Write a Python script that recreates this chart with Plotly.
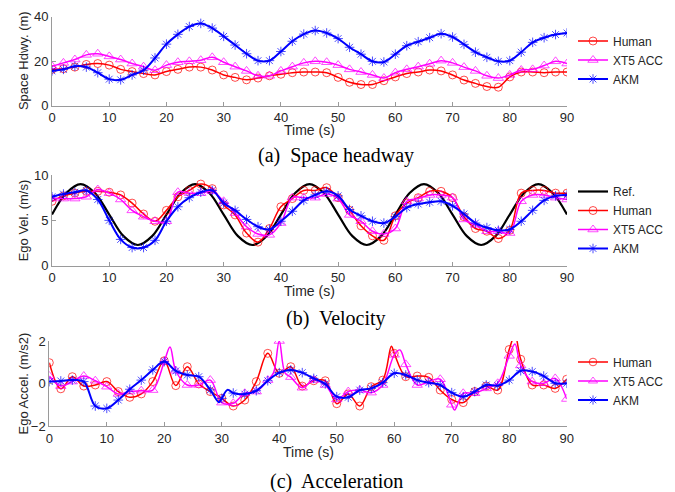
import plotly.graph_objects as go

W, H = 675, 492
OFF = 8  # page body margin in the browser

# ---------------- data ----------------
# (a) Space headway, samples every 2 s
t_hdwy = list(range(0, 91, 2))
hdwy_human = [16.3, 16.6, 17.3, 18.5, 18.9, 18.2, 16.3, 15.3, 14.4, 13.8, 15.3, 16.3, 17.3, 17.3, 16.0,
              13.8, 12.7, 11.6, 12.4, 13.4, 14.1, 14.8, 15.1, 15.1, 14.8, 12.7, 10.5, 9.5, 9.5, 11.2,
              12.9, 14.4, 15.1, 16.0, 15.6, 13.8, 11.5, 10.0, 8.6, 8.3, 12.9, 15.1, 15.1, 14.8, 15.1, 15.1]
hdwy_xt5 = [17.7, 19.2, 20.7, 22.8, 23.3, 22.1, 20.7, 18.9, 17.5, 15.9, 18.2, 19.5, 19.9, 20.4, 21.7,
            19.5, 17.5, 15.6, 13.4, 13.4, 15.6, 17.5, 19.2, 19.9, 19.5, 18.2, 16.3, 15.1, 13.8, 12.4,
            14.8, 16.3, 17.5, 18.8, 20.2, 19.2, 17.3, 15.6, 13.4, 12.4, 13.8, 16.0, 16.3, 18.0, 19.9, 18.9]
hdwy_akm = [15.6, 16.3, 17.7, 17.3, 14.8, 11.9, 11.6, 13.8, 15.9, 21.4, 27.6, 32.0, 35.5, 36.9, 34.8,
            31.1, 27.2, 23.3, 20.2, 20.2, 24.3, 28.9, 32.1, 33.7, 32.6, 30.1, 26.2, 23.1, 19.9, 19.6,
            23.1, 26.9, 28.7, 30.5, 32.3, 30.8, 27.5, 24.0, 21.7, 19.9, 20.2, 24.0, 28.4, 30.5, 31.9, 32.6]

# (b) Velocity
t_ref = [i * 2.5 for i in range(37)]
vel_ref = [5.64, 8.02, 9.0, 8.02, 5.64, 3.26, 2.28, 3.26,
           5.64, 8.02, 9.0, 8.02, 5.64, 3.26, 2.28, 3.26,
           5.64, 8.02, 9.0, 8.02, 5.64, 3.26, 2.28, 3.26,
           5.64, 8.02, 9.0, 8.02, 5.64, 3.26, 2.28, 3.26,
           5.64, 8.02, 9.0, 8.02, 5.64]
t_vel = list(range(0, 91, 2))
vel_human = [7.1, 7.7, 8.0, 8.2, 8.2, 8.1, 7.8, 6.9, 5.7, 4.9, 6.1, 7.6, 8.3, 9.0, 8.5,
             6.7, 5.6, 3.6, 2.6, 4.1, 6.5, 7.4, 8.3, 8.3, 8.6, 7.5, 6.1, 4.4, 3.3, 2.8,
             5.5, 6.9, 7.5, 8.2, 8.2, 7.5, 5.4, 4.1, 3.8, 3.0, 3.9, 8.0, 8.3, 8.3, 8.0, 8.0]
vel_xt5 = [7.4, 7.4, 7.4, 7.6, 8.4, 8.0, 7.3, 6.1, 5.4, 4.9, 4.9, 8.1, 8.0, 8.0, 8.2,
           7.1, 5.8, 4.3, 3.5, 3.4, 4.7, 7.5, 7.5, 7.5, 7.9, 7.4, 5.6, 4.9, 3.8, 3.5,
           4.1, 7.1, 7.4, 7.8, 7.8, 7.5, 5.1, 4.5, 3.8, 3.8, 3.6, 7.1, 7.8, 7.8, 7.5, 7.3]
vel_akm = [7.6, 7.9, 8.1, 8.3, 7.3, 5.0, 2.9, 2.0, 2.0, 2.8, 4.9, 6.5, 7.5, 8.1, 8.3,
           6.9, 6.1, 5.1, 4.3, 4.0, 4.9, 6.0, 7.2, 7.8, 8.2, 7.7, 6.2, 5.5, 4.9, 4.7,
           5.4, 6.4, 6.8, 7.0, 7.1, 6.6, 5.7, 4.7, 4.2, 3.9, 4.0, 4.9, 6.1, 7.2, 7.7, 7.8]

# (c) Acceleration (markers at even seconds, extra samples in between)
t_acc_human = [0, 2, 4, 6, 8, 10, 12, 14, 16, 18, 20, 22, 24, 26, 28, 30, 32, 34, 36, 38, 40, 42, 44, 46, 48,
               50, 52, 54, 56, 58, 59.5, 60, 62, 64, 66, 68, 70, 72, 74, 76, 78, 80, 81, 82, 84, 86, 88, 90]
acc_human = [0.98, -0.25, 0.32, -0.12, -0.07, 0.09, -0.38, -0.65, -0.49, 0.09, 1.07, -0.1, 0.79, -0.02, -0.38,
             -0.7, -1.06, -0.78, 0.09, 1.42, 0.48, 0.79, -0.12, 0.13, 0.13,
             -0.95, -0.49, -1.06, -0.15, 0.16, 1.75, 1.42, 0.32, 0.35, 0.29, -0.31, -0.75, -0.9, -0.38, -0.12,
             -0.31, 1.6, 2.28, 1.14, -0.07, -0.07, -0.23, 0.2]
t_acc_xt5 = [0, 2, 4, 6, 8, 10, 12, 14, 16, 18, 20, 21, 22, 24, 26, 28, 30, 32, 34, 36, 38, 39, 40, 41, 42, 44,
             46, 48, 50, 52, 54, 56, 58, 60, 61, 62, 64, 66, 68, 70, 70.5, 72, 74, 76, 78, 80, 81, 82, 84, 86,
             88, 90]
acc_xt5 = [0.35, -0.12, 0.09, 0.35, 0.13, -0.15, -0.49, -0.38, -0.34, -0.31, 1.03, 1.72, 0.6, -0.07, -0.07,
           0.16, -0.9, -0.93, -0.46, -0.38, 0.16, 0.5, 2.0, 0.5, 0.3, -0.2,
           0.16, -0.07, -0.75, -0.38, -0.31, -0.43, -0.07, 1.35, 1.58, 0.9, -0.07, 0.09, 0.2, -1.0, -1.25,
           -0.46, -0.46, -0.23, 0.01, 1.3, 1.86, 0.85, 0.09, 0.01, 0.24, -0.73]
t_acc_akm = [0, 2, 4, 6, 8, 10, 12, 14, 16, 18, 20, 22, 24, 26, 28, 29.5, 30, 31, 32, 34, 36, 38, 40, 42, 44,
             46, 48, 50, 52, 54, 56, 58, 60, 62, 64, 66, 68, 70, 72, 74, 76, 78, 80, 82, 84, 86, 88, 90]
acc_akm = [0.09, 0.12, 0.16, 0.09, -1.06, -1.17, -0.78, -0.27, 0.16, 0.64, 1.03, 0.59, 0.4, 0.32, -0.3,
           -0.88, -0.7, -0.3, -0.45, -0.5, -0.34, 0.13, 0.51, 0.64, 0.51,
           0.24, -0.02, -0.62, -0.65, -0.31, -0.23, 0.04, 0.48, 0.4, 0.16, 0.04, -0.07, -0.43, -0.62, -0.38,
           -0.07, -0.1, 0.16, 0.6, 0.56, 0.35, 0.01, 0.01]

x_ticks = list(range(0, 91, 10))

# ---------------- styling ----------------
RED, MAG, BLUE = "#ff0000", "#ff00ff", "#0000ff"
SANS = "Liberation Sans, Arial, sans-serif"
SERIF = "Liberation Serif, Times New Roman, serif"
AXC = "#9a9a9a"
TXT = "#262626"


def msize(ts, s):
    return [s if float(t) % 2 == 0 else 0 for t in ts]


def px_x(p):
    return (p - OFF) / W


def px_y(p):
    return 1 - (p - OFF) / H


fig = go.Figure()


def series(t, y, name, color, symbol, size, width, xa, ya, legend, show=True):
    fig.add_trace(go.Scatter(
        x=t, y=y, name=name, mode="lines+markers",
        line=dict(color=color, width=width, shape="spline", smoothing=1.0),
        marker=dict(symbol=symbol, size=msize(t, size), color=color,
                    line=dict(color=color, width=1)),
        xaxis=xa, yaxis=ya, legend=legend, showlegend=show))


# panel a
series(t_hdwy, hdwy_human, "Human", RED, "circle-open", 8, 1.5, "x", "y", "legend")
series(t_hdwy, hdwy_xt5, "XT5 ACC", MAG, "triangle-up-open", 9, 1.5, "x", "y", "legend")
series(t_hdwy, hdwy_akm, "AKM", BLUE, "asterisk-open", 8, 2, "x", "y", "legend")

# panel b
fig.add_trace(go.Scatter(x=t_ref, y=vel_ref, name="Ref.", mode="lines",
                         line=dict(color="black", width=2.2, shape="spline", smoothing=1.0),
                         xaxis="x2", yaxis="y2", legend="legend2"))
series(t_vel, vel_human, "Human", RED, "circle-open", 8, 1.5, "x2", "y2", "legend2")
series(t_vel, vel_xt5, "XT5 ACC", MAG, "triangle-up-open", 9, 1.5, "x2", "y2", "legend2")
series(t_vel, vel_akm, "AKM", BLUE, "asterisk-open", 8, 2, "x2", "y2", "legend2")

# panel c
series(t_acc_human, acc_human, "Human", RED, "circle-open", 8, 1.5, "x3", "y3", "legend3")
series(t_acc_xt5, acc_xt5, "XT5 ACC", MAG, "triangle-up-open", 9, 1.5, "x3", "y3", "legend3")
series(t_acc_akm, acc_akm, "AKM", BLUE, "asterisk-open", 8, 2, "x3", "y3", "legend3")

panels = [
    dict(x0=52, x1=567, y0=16.5, y1=105.7, yr=[0, 40], yt=[0, 20, 40], yl="Space Hdwy. (m)",
         xl_y=130, cap="(a)  Space headway", cap_y=155, leg_y=60),
    dict(x0=52, x1=567, y0=175, y1=265.7, yr=[0, 10], yt=[0, 5, 10], yl="Ego Vel. (m/s)",
         xl_y=290.7, cap="(b)  Velocity", cap_y=318, leg_y=220),
    dict(x0=49.3, x1=566.7, y0=341, y1=426, yr=[-2, 2], yt=[-2, 0, 2], yl="Ego Accel. (m/s2)",
         xl_y=451.7, cap="(c)  Acceleration", cap_y=481, leg_y=381),
]

axis_common = dict(showline=True, linecolor=AXC, linewidth=1, ticks="inside", ticklen=4,
                   tickcolor=AXC, showgrid=False, zeroline=False, mirror=False, automargin=False,
                   tickfont=dict(family=SANS, size=13, color=TXT), fixedrange=True)

annotations = []
layout = {}
for i, p in enumerate(panels):
    sfx = "" if i == 0 else str(i + 1)
    layout["xaxis" + sfx] = dict(domain=[px_x(p["x0"]), px_x(p["x1"])], range=[0, 90],
                                 tickvals=x_ticks, anchor="y" + sfx, **axis_common)
    layout["yaxis" + sfx] = dict(domain=[px_y(p["y1"]), px_y(p["y0"])], range=p["yr"],
                                 tickvals=p["yt"], anchor="x" + sfx, **axis_common)
    layout["legend" + sfx] = dict(x=px_x(573), y=px_y(p["leg_y"]), xanchor="left", yanchor="middle",
                                  font=dict(family=SANS, size=12, color=TXT),
                                  bgcolor="rgba(0,0,0,0)", tracegroupgap=0)
    annotations.append(dict(text=p["yl"], x=px_x(23), y=px_y((p["y0"] + p["y1"]) / 2),
                            xref="paper", yref="paper", textangle=-90, showarrow=False,
                            xanchor="center", yanchor="middle",
                            font=dict(family=SANS, size=13, color=TXT)))
    annotations.append(dict(text="Time (s)", x=px_x((p["x0"] + p["x1"]) / 2), y=px_y(p["xl_y"]),
                            xref="paper", yref="paper", showarrow=False,
                            xanchor="center", yanchor="middle",
                            font=dict(family=SANS, size=14, color=TXT)))
    annotations.append(dict(text=p["cap"], x=px_x(336), y=px_y(p["cap_y"]),
                            xref="paper", yref="paper", showarrow=False,
                            xanchor="center", yanchor="middle",
                            font=dict(family=SERIF, size=20, color="black")))

fig.update_layout(width=W, height=H, margin=dict(l=0, r=0, t=0, b=0, autoexpand=False),
                  paper_bgcolor="white", plot_bgcolor="white",
                  annotations=annotations, **layout)

fig.write_html("out.html")
